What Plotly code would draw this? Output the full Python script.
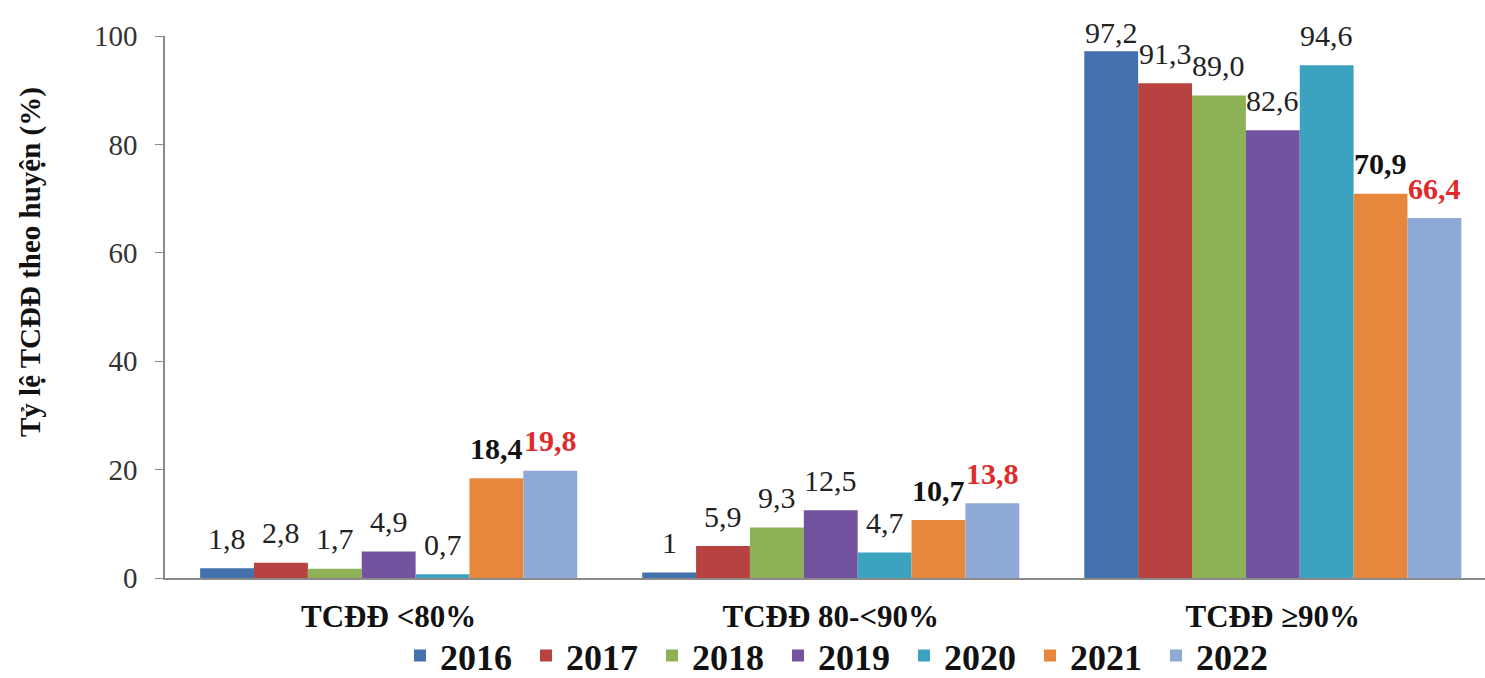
import plotly.graph_objects as go

# Category groups (x axis) and yearly series
categories = ["TCĐĐ <80%", "TCĐĐ 80-<90%", "TCĐĐ ≥90%"]
years = ["2016", "2017", "2018", "2019", "2020", "2021", "2022"]

v2016 = [1.8, 1, 97.2]
v2017 = [2.8, 5.9, 91.3]
v2018 = [1.7, 9.3, 89.0]
v2019 = [4.9, 12.5, 82.6]
v2020 = [0.7, 4.7, 94.6]
v2021 = [18.4, 10.7, 70.9]
v2022 = [19.8, 13.8, 66.4]

series = [v2016, v2017, v2018, v2019, v2020, v2021, v2022]

y_ticks = [0, 20, 40, 60, 80, 100]

colors = ["#4472AE", "#B8423F", "#8DB255", "#7352A0", "#3BA2C0", "#E6873B", "#8EA9D6"]

SERIF = "Liberation Serif, Times New Roman, serif"
BARGAP = 0.147

W, H = 1485, 678
L, R, T, B = 165, 0, 36, 100
PLOT_H = H - T - B
Y_MAX = 100

fig = go.Figure()
for name, vals, col in zip(years, series, colors):
    fig.add_trace(go.Bar(
        name=name, x=categories, y=vals,
        marker=dict(color=col, line=dict(width=0)),
    ))

# value labels above each bar (decimal comma); kept inside the top edge
n = len(series)
slot = (1 - BARGAP) / n
px_per_unit = PLOT_H / Y_MAX
annotations = []
for i, vals in enumerate(series):
    if years[i] == "2022":
        style = dict(color="#E02B2B", size=30, family=SERIF, weight="bold")
    elif years[i] == "2021":
        style = dict(color="#111111", size=30, family=SERIF, weight="bold")
    else:
        style = dict(color="#222222", size=30, family=SERIF)
    for j, v in enumerate(vals):
        shift = min(30, (Y_MAX - v) * px_per_unit + 4)
        annotations.append(dict(
            x=j + (i - (n - 1) / 2) * slot, y=v, xref="x", yref="y",
            text=str(v).replace(".", ","), showarrow=False,
            yshift=shift, yanchor="middle", xanchor="center",
            font=style,
        ))

# rotated y-axis title
annotations.append(dict(
    xref="paper", x=(30 - L) / (W - L - R), xanchor="center",
    yref="paper", y=(H - B - 262) / PLOT_H, yanchor="middle",
    text="<b>Tỷ lệ TCĐĐ theo huyện (%)</b>", showarrow=False,
    textangle=-90, font=dict(family=SERIF, size=29, color="#111111"),
))

fig.update_layout(
    width=W, height=H,
    margin=dict(l=L, r=R, t=T, b=B, autoexpand=False),
    paper_bgcolor="white", plot_bgcolor="white",
    barmode="group", bargap=BARGAP, bargroupgap=0,
    font=dict(family=SERIF, color="#222222"),
    showlegend=True,
    legend=dict(
        orientation="h", x=(400 - L) / (W - L - R), xanchor="left",
        y=-0.088, yanchor="top", yref="paper",
        bgcolor="rgba(0,0,0,0)",
        font=dict(family=SERIF, size=36, color="#111111", weight="bold"),
        entrywidth=81, entrywidthmode="pixels",
        itemwidth=30, traceorder="normal",
    ),
    annotations=annotations,
)

fig.update_xaxes(
    range=[-0.506, 2.48],
    showline=True, linecolor="#8a8a8a", linewidth=1.5,
    ticks="", showgrid=False, zeroline=False,
    tickfont=dict(family=SERIF, size=31, color="#111111", weight="bold"),
    ticklabelstandoff=10,
    automargin=False,
)
fig.update_yaxes(
    range=[0, Y_MAX], tickvals=y_ticks,
    showline=True, linecolor="#8a8a8a", linewidth=1.5,
    ticks="outside", ticklen=8, tickcolor="#8a8a8a",
    showgrid=False, zeroline=False,
    tickfont=dict(family=SERIF, size=29, color="#333333"),
    ticklabelstandoff=12,
    automargin=False,
)

fig.write_html("out.html")
